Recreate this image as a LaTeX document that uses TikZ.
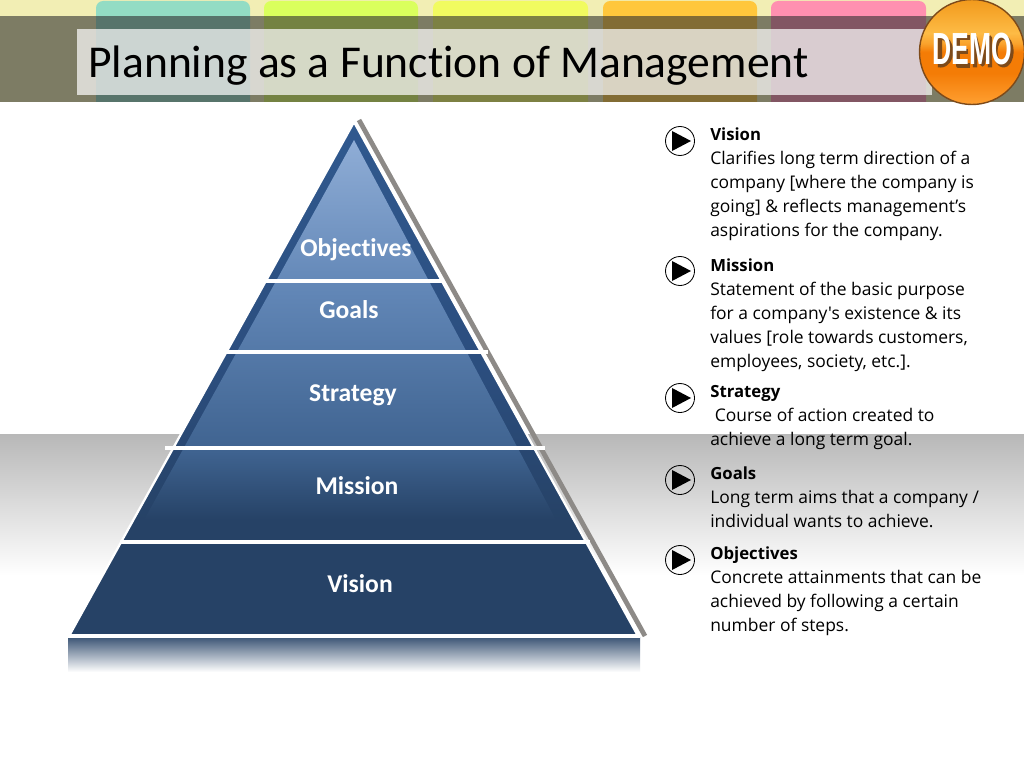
\documentclass[tikz,border=0pt]{standalone}
\usepackage{fontspec}
\setmainfont{Open Sans}
\newfontfamily\bodyfont{Open Sans}
\newfontfamily\titlefont{Carlito}[Ligatures=NoCommon]
\newfontfamily\demofont{Liberation Sans}
\newcommand{\infohead}[1]{{\bfseries\fontsize{11.9}{17.07}\selectfont #1}}
\definecolor{creamback}{HTML}{F2EEB4}
\definecolor{tabteal}{HTML}{93DCC4}
\definecolor{tablime}{HTML}{DAFF5D}
\definecolor{tabyellow}{HTML}{F1FB60}
\definecolor{taborange}{HTML}{FFC73C}
\definecolor{tabpink}{HTML}{FF90B0}
\definecolor{bandgray}{HTML}{303030}
\definecolor{pyrdark}{HTML}{264266}
\definecolor{pyrmid}{HTML}{2B4D7D}
\definecolor{pyrtop}{HTML}{30598F}
\definecolor{innerlow}{HTML}{3F6390}
\definecolor{innermid}{HTML}{6186B6}
\definecolor{innertop}{HTML}{8FADD6}
\definecolor{pyrshadow}{HTML}{8D8A87}
\definecolor{ballrim}{HTML}{7D4A1A}
\definecolor{balltop}{HTML}{F29A1C}
\definecolor{ballglow}{HTML}{FDBB45}
\definecolor{ballmid}{HTML}{F47C06}
\definecolor{ballfoot}{HTML}{FFA032}
\pgfdeclareverticalshading{pyrouter}{100bp}{
	color(0bp)=(pyrdark); color(25bp)=(pyrdark); color(36bp)=(pyrdark);
	color(50bp)=(pyrmid); color(75bp)=(pyrtop); color(100bp)=(pyrtop)}
\pgfdeclareverticalshading{pyrinner}{100bp}{
	color(0bp)=(pyrdark); color(25bp)=(pyrdark); color(34bp)=(innerlow);
	color(55bp)=(innermid); color(75bp)=(innertop); color(100bp)=(innertop)}
\pgfdeclareverticalshading{demoball}{100bp}{
	color(0bp)=(ballfoot); color(25bp)=(ballfoot); color(40bp)=(ballmid);
	color(50bp)=(ballmid); color(54bp)=(ballglow!60!ballmid); color(59bp)=(ballglow);
	color(75bp)=(balltop); color(100bp)=(balltop)}
\tikzset{
	tabbox/.style={rounded corners=5pt},
	pyrlabel/.style={text=white,font=\titlefont\fontsize{18.2}{20}\selectfont\bfseries},
	pyrline/.style={draw=white,line width=2.2pt},
	infotext/.style={anchor=north west,align=left,inner sep=0pt,font=\bodyfont\fontsize{12.4}{17.07}\selectfont},
	playring/.style={draw=black,line width=0.6pt},
	demolabel/.style={font=\demofont\fontsize{32}{34}\selectfont\bfseries,xscale=0.59,inner sep=0pt},
	demoshade/.style={draw=ballrim,line width=3pt},
}
\begin{document}
\begin{tikzpicture}[x=0.025cm,y=-0.025cm,line join=round]
	\useasboundingbox (0,0) rectangle (1024,768);
	\fill[white] (0,0) rectangle (1024,768);
	\fill[creamback] (0,0) rectangle (1024,102);
	\fill[tabteal,tabbox] (96,1) rectangle (250,110);
	\fill[tablime,tabbox] (264,1) rectangle (418,110);
	\fill[tabyellow,tabbox] (433,1) rectangle (588,110);
	\fill[taborange,tabbox] (603,1) rectangle (757,110);
	\fill[tabpink,tabbox] (771,1) rectangle (926,110);
	\fill[white] (0,102) rectangle (1024,112);
	\fill[bandgray,opacity=0.6] (0,16) rectangle (1024,102);
	\fill[white,opacity=0.7] (77,29) rectangle (932,95);
	\node[anchor=west,inner sep=0pt,font=\titlefont\fontsize{32.4}{36}\selectfont] (title) at (88,65.5) {Planning as a Function of Management};
	\shade[shading=demoball] (972,52) circle (52.5);
	\draw[ballrim,line width=1pt] (972,52) circle (52.5);
	\begin{scope}[shift={(2,2.5)}]
		\draw[demoshade] (938,65) -- (938,35) .. controls (953,35) and (953,63) .. (938,63);
		\draw[demoshade] (968,35) -- (956,35) -- (956,63) -- (968,63);
		\draw[demoshade] (956,49) -- (966,49);
		\draw[demoshade] (973,65) -- (973,35) -- (980.5,62) -- (988,35) -- (988,65);
		\draw[demoshade] (1001.5,49) ellipse (8 and 14);
	\end{scope}
	\node[demolabel,text=white] (demo) at (972,49) {DEMO};
	\shade[top color=black!28,bottom color=white] (0,434) rectangle (1024,575);
	\shade[top color=pyrdark!90,bottom color=white] (68,637) rectangle (640,672);
	\coordinate (T) at (354,122);
	\coordinate (L) at (69,636);
	\coordinate (R) at (638,636);
	\coordinate (Ti) at (354,140);
	\coordinate (Li) at (144,520);
	\coordinate (Ri) at (556,520);
	\draw[pyrshadow,line width=3.4pt] (359,120) -- (645,636);
	\shade[shading=pyrouter] (T) -- (L) -- (R) -- cycle;
	\shade[shading=pyrinner] (Ti) -- (Li) -- (Ri) -- cycle;
	\draw[white,line width=1.6pt] (T) -- (L);
	\draw[white,line width=1.6pt] (T) -- (R);
	\draw[pyrline] (266,281) -- (444,281);
	\draw[pyrline] (225,352) -- (488,352);
	\draw[pyrline] (165,448) -- (545,448);
	\draw[pyrline] (120,542) -- (590,542);
	\draw[pyrline] (68,636) -- (640,636);
	\node[pyrlabel] (objectives) at (356,250) {Objectives};
	\node[pyrlabel] (goals) at (349,309.5) {Goals};
	\node[pyrlabel] (strategy) at (353,395) {Strategy};
	\node[pyrlabel] (mission) at (357,486) {Mission};
	\node[pyrlabel] (vision) at (360,584) {Vision};
	\foreach \ypos in {141,271,398,480,560}{
		\draw[playring] (680,\ypos) circle (14.5);
		\fill[black] (672,\ypos-10) -- (691,\ypos) -- (672,\ypos+10) -- cycle;
	}
	\node[infotext] (visiontext) at (710,127.5) {\infohead{Vision}\\Clarifies long term direction of a\\company [where the company is\\going] \& reflects management’s\\aspirations for the company.};
	\node[infotext] (missiontext) at (710,258.5) {\infohead{Mission}\\Statement of the basic purpose\\for a company's existence \& its\\values [role towards customers,\\employees, society, etc.].};
	\node[infotext] (strategytext) at (710,385.5) {\infohead{Strategy}\\\ Course of action created to\\achieve a long term goal.};
	\node[infotext] (goalstext) at (710,466.5) {\infohead{Goals}\\Long term aims that a company /\\individual wants to achieve.};
	\node[infotext] (objectivestext) at (710,546.5) {\infohead{Objectives}\\Concrete attainments that can be\\achieved by following a certain\\number of steps.};
\end{tikzpicture}
\end{document}
